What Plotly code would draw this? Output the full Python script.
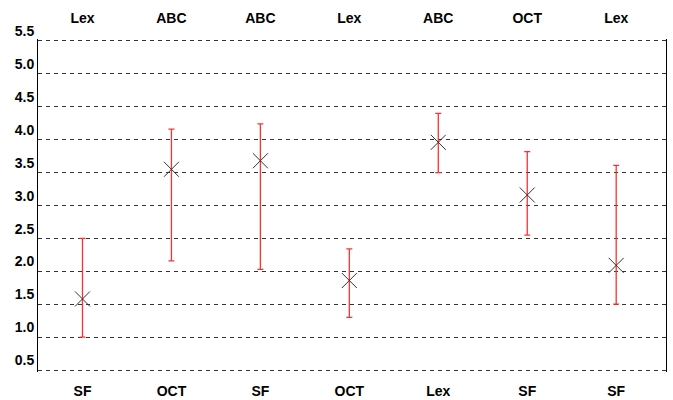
import plotly.graph_objects as go

positions = [0, 1, 2, 3, 4, 5, 6]
bottom_labels = ["SF", "OCT", "SF", "OCT", "Lex", "SF", "SF"]
top_labels = ["Lex", "ABC", "ABC", "Lex", "ABC", "OCT", "Lex"]
means = [1.58, 3.55, 3.68, 1.86, 3.96, 3.16, 2.09]
upper = [2.50, 4.16, 4.24, 2.34, 4.40, 3.82, 3.61]
lower = [1.00, 2.16, 2.03, 1.30, 3.50, 2.55, 1.50]
y_ticks = [0.5, 1.0, 1.5, 2.0, 2.5, 3.0, 3.5, 4.0, 4.5, 5.0, 5.5]

err_plus = [u - m for u, m in zip(upper, means)]
err_minus = [m - l for m, l in zip(means, lower)]

fig = go.Figure()
fig.add_trace(go.Scatter(
    x=positions, y=means, mode="markers",
    marker=dict(symbol="x-thin", size=15, color="#333",
                line=dict(color="#333", width=1)),
    error_y=dict(type="data", symmetric=False, array=err_plus,
                 arrayminus=err_minus, color="#ff3030", thickness=1.3, width=3),
    showlegend=False, hoverinfo="skip",
))
fig.add_trace(go.Scatter(
    x=positions, y=means, mode="markers", xaxis="x2",
    marker=dict(opacity=0), showlegend=False, hoverinfo="skip",
))

font = dict(family="Liberation Sans, Arial, sans-serif", size=14, color="black", weight="bold")
xrange = [-0.5, 6.56]
yrange = [0.47, 5.53]

fig.update_layout(
    width=673, height=400,
    margin=dict(l=38, r=7, t=39, b=28),
    paper_bgcolor="white", plot_bgcolor="white",
    xaxis=dict(range=xrange, tickmode="array", tickvals=positions,
               ticktext=bottom_labels, showgrid=False, zeroline=False,
               showline=False, ticks="", tickfont=font, automargin=False,
               ticklabelstandoff=9),
    xaxis2=dict(range=xrange, tickmode="array", tickvals=positions,
                ticktext=top_labels, overlaying="x", side="top",
                showgrid=False, zeroline=False, showline=False, ticks="",
                tickfont=font, automargin=False, ticklabelstandoff=12),
    yaxis=dict(range=yrange, tickmode="array", tickvals=y_ticks,
               ticktext=[f"{v:.1f}" for v in y_ticks],
               showgrid=True, gridcolor="#333", gridwidth=1, griddash="4px,4px",
               zeroline=False, showline=True, linecolor="black", linewidth=1,
               mirror=True, ticks="", ticklabelposition="outside top",
               automargin=False,
               tickfont=dict(family="Liberation Sans, Arial, sans-serif", size=14,
                             color="black", weight="bold")),
)

fig.write_html("out.html", post_script="document.body.style.margin='0';",
               config={"displayModeBar": False})
